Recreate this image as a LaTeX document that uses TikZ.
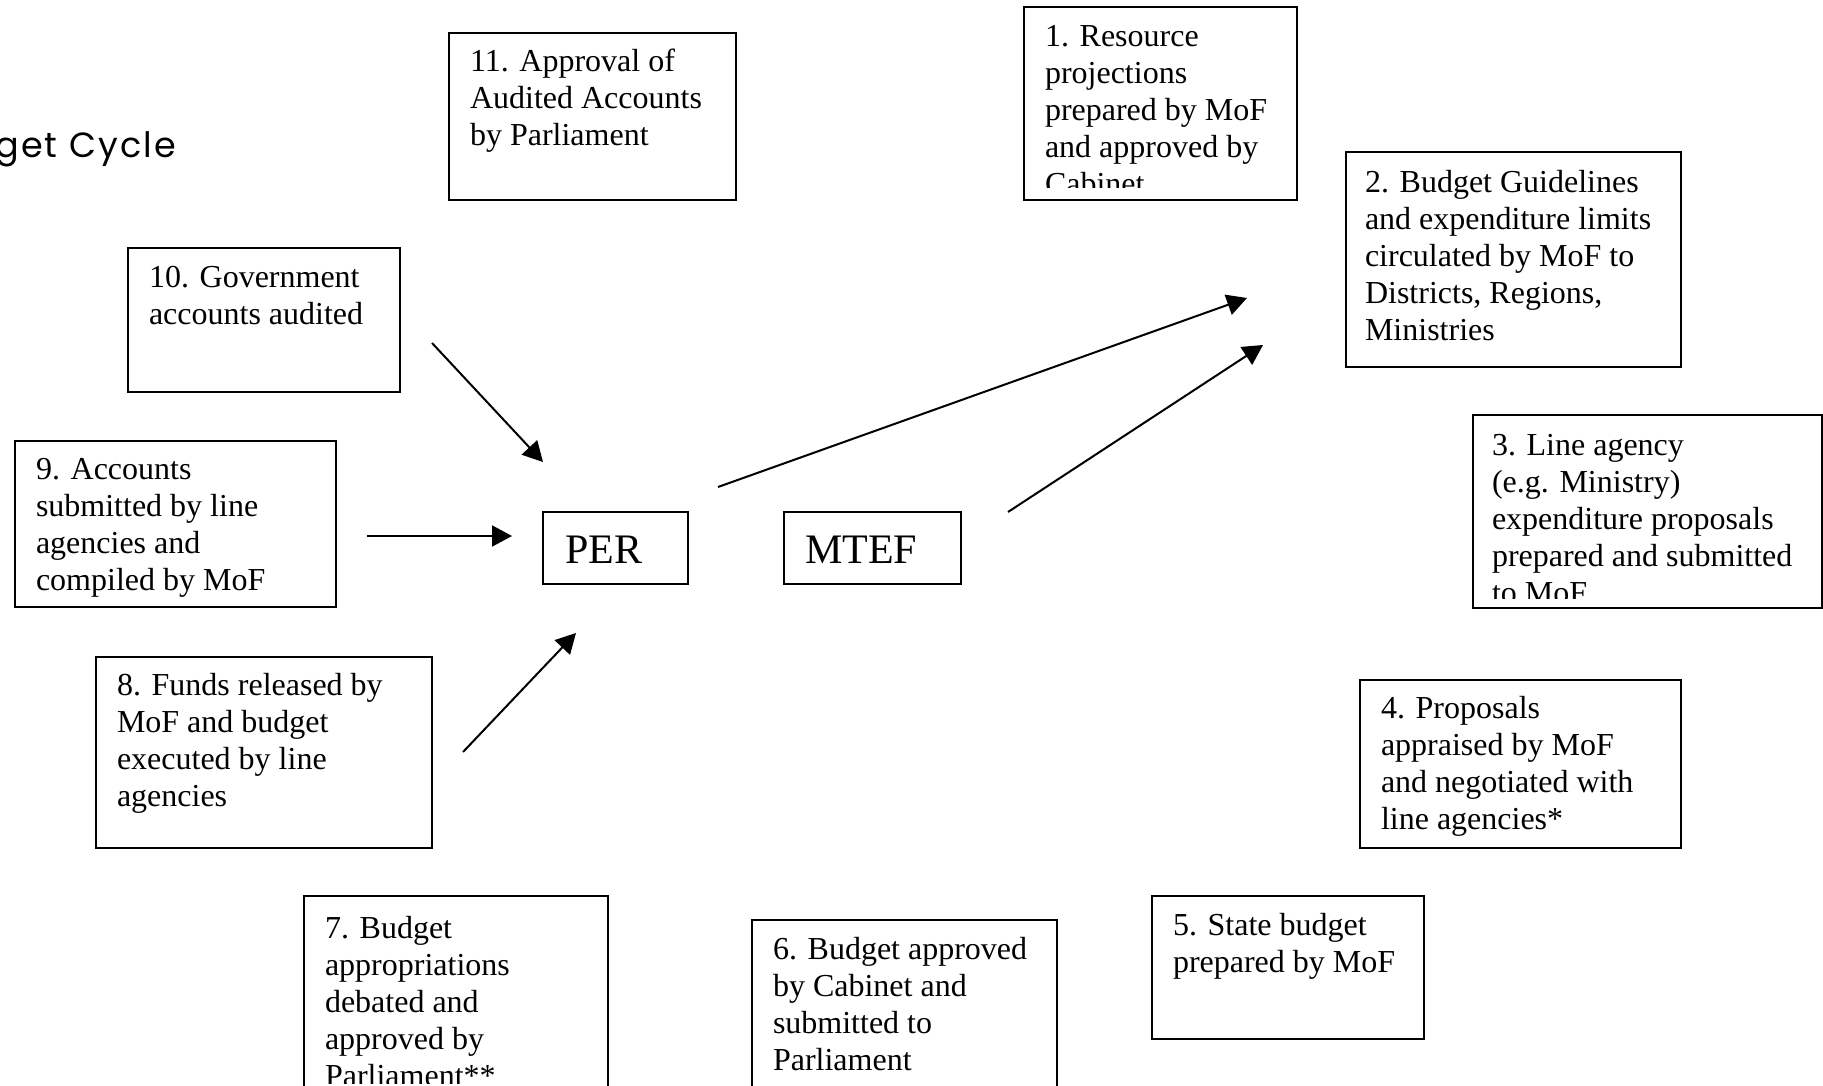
\documentclass[tikz,border=0pt]{standalone}
\usepackage{fontspec}
\setmainfont{Liberation Serif}
\newfontfamily\titlefont[LetterSpace=6]{Poppins}
\usetikzlibrary{arrows.meta,calc}
\begin{document}
\begin{tikzpicture}[x=1pt,y=-1pt,
  box/.style={draw=black, line width=2pt, rectangle, anchor=north west, inner sep=0pt, outer sep=0pt},
  txt/.style={anchor=base west, inner sep=0pt, outer sep=0pt, align=left, font=\fontsize{32}{37}\selectfont},
  bigtxt/.style={anchor=base west, inner sep=0pt, outer sep=0pt, font=\fontsize{42}{48}\selectfont},
  arr/.style={line width=2pt, -{Triangle[length=20pt,width=21pt]}}]
\useasboundingbox (0,0) rectangle (1823,1086);
\clip (0,0) rectangle (1823,1086);
\fill[white] (0,0) rectangle (1823,1086);

% title (clipped at left edge)
\node[anchor=base east, inner sep=0pt, font=\titlefont\fontsize{35}{40}\selectfont] (title) at (176,158) {Budget Cycle};

% boxes
\node[box, minimum width=287pt, minimum height=167pt] (b11) at (449,33) {};
\node[box, minimum width=273pt, minimum height=193pt] (b1) at (1024,7) {};
\node[box, minimum width=335pt, minimum height=215pt] (b2) at (1346,152) {};
\node[box, minimum width=349pt, minimum height=193pt] (b3) at (1473,415) {};
\node[box, minimum width=272pt, minimum height=144pt] (b10) at (128,248) {};
\node[box, minimum width=321pt, minimum height=166pt] (b9) at (15,441) {};
\node[box, minimum width=336pt, minimum height=191pt] (b8) at (96,657) {};
\node[box, minimum width=321pt, minimum height=168pt] (b4) at (1360,680) {};
\node[box, minimum width=272pt, minimum height=143pt] (b5) at (1152,896) {};
\node[box, minimum width=305pt, minimum height=200pt] (b6) at (752,920) {};
\node[box, minimum width=304pt, minimum height=200pt] (b7) at (304,896) {};
\node[box, minimum width=145pt, minimum height=72pt] (per) at (543,512) {};
\node[box, minimum width=177pt, minimum height=72pt] (mtef) at (784,512) {};

% texts (anchor = baseline of the last line)
\node[txt] (t11) at ($(b11.north west)+(21,113)$) {11. Approval of\\Audited Accounts\\by Parliament};
\begin{scope}
\clip (1024,7) rectangle (1297,188);
\node[txt] (t1) at ($(b1.north west)+(21,188)$) {1. Resource\\projections\\prepared by MoF\\and approved by\\Cabinet};
\end{scope}
\node[txt] (t2) at ($(b2.north west)+(19,188)$) {2. Budget Guidelines\\and expenditure limits\\circulated by MoF to\\Districts, Regions,\\Ministries};
\begin{scope}
\clip (1473,415) rectangle (1823,598);
\node[txt] (t3) at ($(b3.north west)+(19,188)$) {3. Line agency\\(e.g. Ministry)\\expenditure proposals\\prepared and submitted\\to MoF};
\end{scope}
\node[txt] (t4) at ($(b4.north west)+(21,149)$) {4. Proposals\\appraised by MoF\\and negotiated with\\line agencies*};
\node[txt] (t5) at ($(b5.north west)+(21,76)$) {5. State budget\\prepared by MoF};
\node[txt] (t6) at ($(b6.north west)+(21,150)$) {6. Budget approved\\by Cabinet and\\submitted to\\Parliament};
\begin{scope}
\clip (304,896) rectangle (608,1083);
\node[txt] (t7) at ($(b7.north west)+(21,190)$) {7. Budget\\appropriations\\debated and\\approved by\\Parliament**};
\end{scope}
\node[txt] (t8) at ($(b8.north west)+(21,149)$) {8. Funds released by\\MoF and budget\\executed by line\\agencies};
\node[txt] (t9) at ($(b9.north west)+(21,149)$) {9. Accounts\\submitted by line\\agencies and\\compiled by MoF};
\node[txt] (t10) at ($(b10.north west)+(21,76)$) {10. Government\\accounts audited};
\node[bigtxt] (tper) at ($(per.north west)+(22,51)$) {PER};
\node[bigtxt] (tmtef) at ($(mtef.north west)+(21,51)$) {MTEF};

% connector end points
\coordinate (a10s) at (432,343);
\coordinate (a10e) at (543,462);
\coordinate (a9s) at (367,536);
\coordinate (a9e) at (512,536);
\coordinate (a8s) at (463,752);
\coordinate (a8e) at (576,633);
\coordinate (aps) at (718,487);
\coordinate (ape) at (1247,298);
\coordinate (ams) at (1008,512);
\coordinate (ame) at (1263,345);

\draw[arr] (a10s) -- (a10e);
\draw[arr] (a9s) -- (a9e);
\draw[arr] (a8s) -- (a8e);
\draw[arr] (aps) -- (ape);
\draw[arr] (ams) -- (ame);
\end{tikzpicture}
\end{document}
